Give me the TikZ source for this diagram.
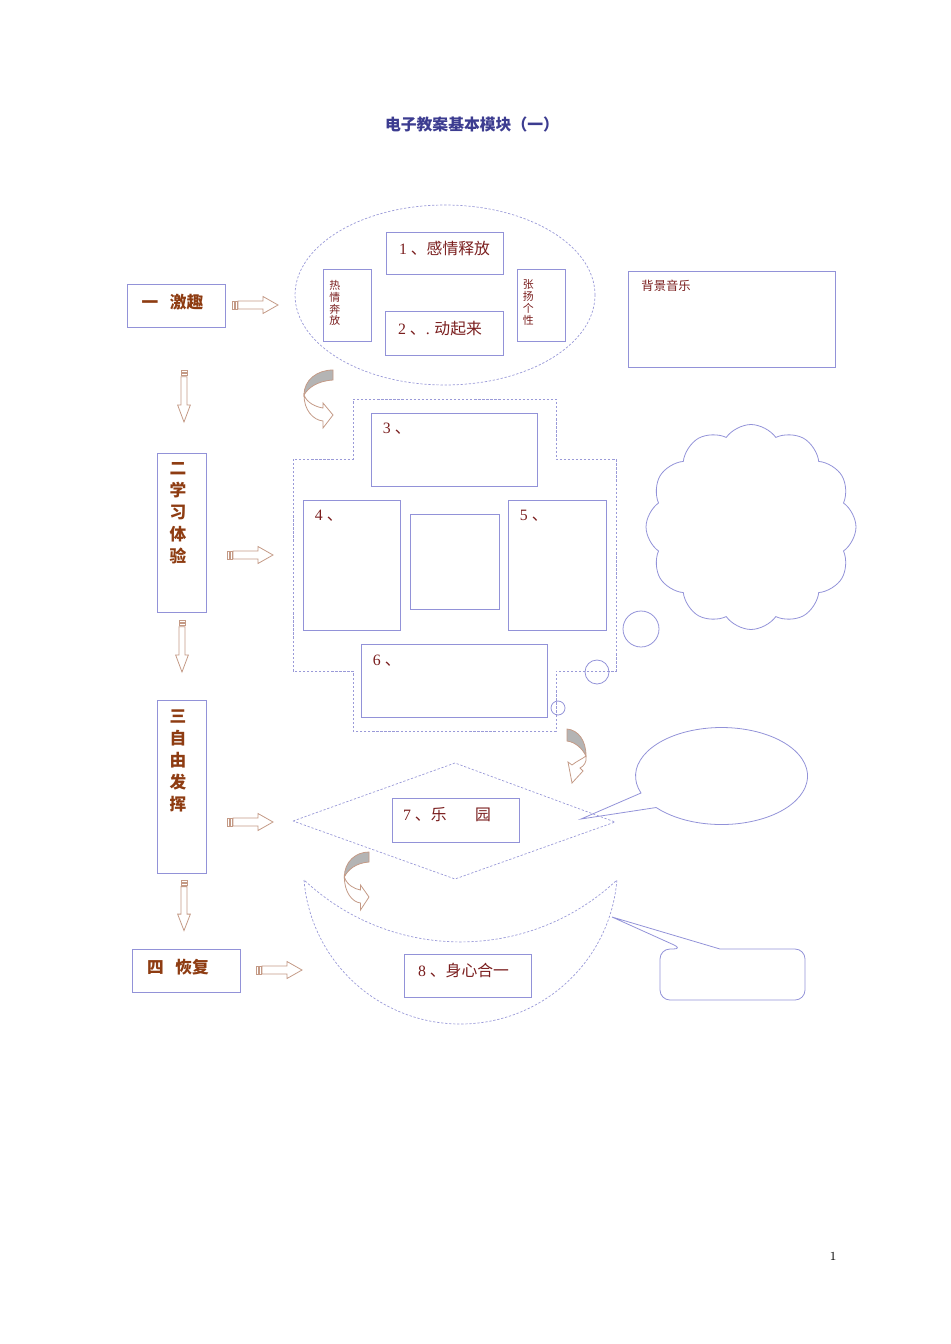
\documentclass[tikz,border=0pt]{standalone}
\usepackage{fontspec}
\usepackage{tikz}
\usetikzlibrary{shapes.geometric,shapes.symbols}
\newfontfamily\cjk{Noto Sans CJK SC}
\newfontfamily\num{Liberation Serif}
\definecolor{boxblue}{HTML}{9292D8}
\definecolor{dashblue}{HTML}{9A9AD8}
\definecolor{txtred}{HTML}{7A1E1E}
\definecolor{labbrown}{HTML}{8E3C12}
\definecolor{arrowtan}{HTML}{C49A86}
\definecolor{titleblue}{HTML}{3C3C90}
\definecolor{bendgray}{HTML}{B4B4B4}
\tikzstyle{box}=[draw=boxblue, line width=0.45pt, inner sep=0pt]
\tikzstyle{outline}=[draw=dashblue, line width=0.4pt, dash pattern=on 1.3pt off 1pt]
\tikzstyle{bubble}=[draw=boxblue, line width=0.45pt]
\tikzstyle{txt}=[text=txtred, inner sep=0pt, font=\fontsize{9}{10}\selectfont\cjk]
\tikzstyle{vsmall}=[text=txtred, inner sep=0pt, align=left, font=\fontsize{6.2}{6.8}\selectfont\cjk]
\tikzstyle{stage}=[text=labbrown, inner sep=0pt, align=center, font=\fontsize{9.5}{12.5}\selectfont\cjk\bfseries]
\tikzstyle{arrowline}=[draw=arrowtan, line width=0.45pt, fill=white]
\tikzset{
    fatarrow/.pic={
        \draw[arrowline] (0,-4) rectangle (2,4);
        \draw[arrowline] (3,-4) rectangle (5,4);
        \draw[arrowline] (6,-4) -- (31,-4) -- (31,-8.5) -- (46,0) -- (31,8.5) -- (31,4) -- (6,4) -- cycle;
    },
    turnarrow/.pic={
        \draw[arrowline] (-29,25) .. controls (-29,40) and (-20,50) .. (-10,51) -- (-10,58) -- (0,45)
            -- (-10,33) -- (-10,38) .. controls (-17,37) and (-26,33) .. (-29,25) -- cycle;
        \draw[arrowline, fill=bendgray] (0,0) .. controls (-16,0) and (-29,10) .. (-29,25)
            .. controls (-25,18) and (-16,11) .. (0,10) -- cycle;
    },
    droparrow/.pic={
        \draw[arrowline] (19,27) .. controls (20,33) and (17,37) .. (13,39) -- (16,42) -- (5,54)
            -- (1,33) -- (5,36) .. controls (10,32) and (15,30) .. (19,27) -- cycle;
        \draw[arrowline, fill=bendgray] (0,0) .. controls (11,1) and (19,11) .. (19,27)
            .. controls (15,19) and (8,13) .. (0,12) -- cycle;
    }
}

\begin{document}
\begin{tikzpicture}[x=0.02cm, y=-0.02cm]
        \useasboundingbox (0,0) rectangle (950,1344);
        \node[text=titleblue, font=\fontsize{9}{10}\selectfont\cjk\bfseries] (title) at (472,124) {电子教案基本模块（一）}
        ;
        % left column
        \node[box, minimum width=1.96cm, minimum height=0.86cm,
            label={[stage, xshift=-0.07cm, yshift=0.07cm]center:一\hspace{0.7em}激趣}] (jiqu) at (176,305.5) {}
        ;
        \node[box, minimum width=0.98cm, minimum height=3.18cm,
            label={[stage, anchor=north, xshift=-0.07cm, yshift=-0.2cm]north:二\\学\\习\\体\\验}] (xuexi) at (181.5,532.5) {}
        ;
        \node[box, minimum width=0.98cm, minimum height=3.46cm,
            label={[stage, anchor=north, xshift=-0.07cm, yshift=-0.2cm]north:三\\自\\由\\发\\挥}] (fahui) at (181.5,786.5) {}
        ;
        \node[box, minimum width=2.16cm, minimum height=0.86cm,
            label={[stage, xshift=-0.16cm, yshift=0.07cm]center:四\hspace{0.7em}恢复}] (huifu) at (186,970.5) {}
        ;
        \pic at (232,305) {fatarrow};
        \pic at (227,555) {fatarrow};
        \pic at (227,822) {fatarrow};
        \pic at (256,970) {fatarrow};
        \pic[rotate=-90, xscale=1.13, yscale=0.75] at (184,370) {fatarrow};
        \pic[rotate=-90, xscale=1.13, yscale=0.75] at (182,620) {fatarrow};
        \pic[rotate=-90, xscale=1.1, yscale=0.75] at (184,880) {fatarrow};
        % module one
        \node[ellipse, outline, minimum width=6cm, minimum height=3.6cm, inner sep=0pt] (oval) at (445,295) {}
        ;
        \node[box, minimum width=2.34cm, minimum height=0.84cm,
            label={[txt, yshift=0.09cm]center:{\num 1 }、感情释放}] (m1) at (444.5,253) {}
        ;
        \node[box, minimum width=2.36cm, minimum height=0.88cm,
            label={[txt, xshift=-0.08cm, yshift=0.08cm]center:{\num 2 }、{\num .} 动起来}] (m2) at (444,333) {}
        ;
        \node[box, minimum width=0.96cm, minimum height=1.44cm,
            label={[vsmall, anchor=north west, xshift=0.13cm, yshift=-0.22cm]north west:热\\情\\奔\\放}] (reqing) at (347,305) {}
        ;
        \node[box, minimum width=0.96cm, minimum height=1.44cm,
            label={[vsmall, anchor=north west, xshift=0.12cm, yshift=-0.22cm]north west:张\\扬\\个\\性}] (gexing) at (541,305) {}
        ;
        \node[box, minimum width=4.14cm, minimum height=1.92cm,
            label={[vsmall, anchor=north west, xshift=0.27cm, yshift=-0.18cm, font=\fontsize{7}{8}\selectfont\cjk]north west:背景音乐}] (music) at (731.5,319) {}
        ;
        % module two
        \pic at (333,370) {turnarrow};
        \draw[outline] (353,399) -- (556,399) -- (556,459) -- (616,459) -- (616,671) -- (556,671)
            -- (556,731) -- (353,731) -- (353,671) -- (293,671) -- (293,459) -- (353,459) -- cycle;
        \node[box, minimum width=3.32cm, minimum height=1.46cm,
            label={[txt, anchor=north west, xshift=0.24cm, yshift=-0.2cm]north west:{\num 3 }、}] (m3) at (454,449.5) {}
        ;
        \node[box, minimum width=1.94cm, minimum height=2.6cm,
            label={[txt, anchor=north west, xshift=0.24cm, yshift=-0.2cm]north west:{\num 4 }、}] (m4) at (351.5,565) {}
        ;
        \node[box, minimum width=1.78cm, minimum height=1.9cm] (mc) at (454.5,561.5) {}
        ;
        \node[box, minimum width=1.96cm, minimum height=2.6cm,
            label={[txt, anchor=north west, xshift=0.24cm, yshift=-0.2cm]north west:{\num 5 }、}] (m5) at (557,565) {}
        ;
        \node[box, minimum width=3.72cm, minimum height=1.46cm,
            label={[txt, anchor=north west, xshift=0.24cm, yshift=-0.22cm]north west:{\num 6 }、}] (m6) at (454,680.5) {}
        ;
        % thought cloud
        \node[cloud, bubble, cloud puffs=12, cloud puff arc=110, minimum width=4.2cm, minimum height=4.1cm, inner sep=0pt] (cloud) at (751,527) {}
        ;
        \node[circle, bubble, minimum size=0.72cm, inner sep=0pt] (dot1) at (641,629) {}
        ;
        \node[circle, bubble, minimum size=0.48cm, inner sep=0pt] (dot2) at (597,672) {}
        ;
        \node[circle, bubble, minimum size=0.28cm, inner sep=0pt] (dot3) at (558,708) {}
        ;
        % module three
        \pic at (567,729) {droparrow};
        \draw[outline] (293,821) -- (455,763) -- (615,822) -- (455,879) -- cycle;
        \node[box, fill=white, minimum width=2.54cm, minimum height=0.88cm,
            label={[txt, xshift=-0.17cm, yshift=0.1cm]center:{\num 7 }、乐\hspace{1.8em}园}] (m7) at (455.5,820) {}
        ;
        \draw[bubble] (641,793) arc[start angle=159.5, end angle=499.5, x radius=86, y radius=48.5] -- (581,819) -- cycle;
        % module four
        \pic[xscale=0.85] at (369,852) {turnarrow};
        \draw[outline] (304,880) arc[start angle=175.25, end angle=4.75, radius=157]
            arc[start angle=46.8, end angle=133.2, radius=228.5] -- cycle;
        \node[box, minimum width=2.54cm, minimum height=0.86cm,
            label={[txt, xshift=-0.08cm, yshift=0.1cm]center:{\num 8 }、身心合一}] (m8) at (467.5,975.5) {}
        ;
        \draw[bubble] (683,949) -- (612,917) -- (720,949) [rounded corners=0.2cm] -- (805,949) -- (805,1000)
            -- (660,1000) -- (660,949) -- cycle;
        \node[font=\fontsize{7}{8}\selectfont] (page) at (833,1256) {1}
        ;
\end{tikzpicture}
\end{document}
